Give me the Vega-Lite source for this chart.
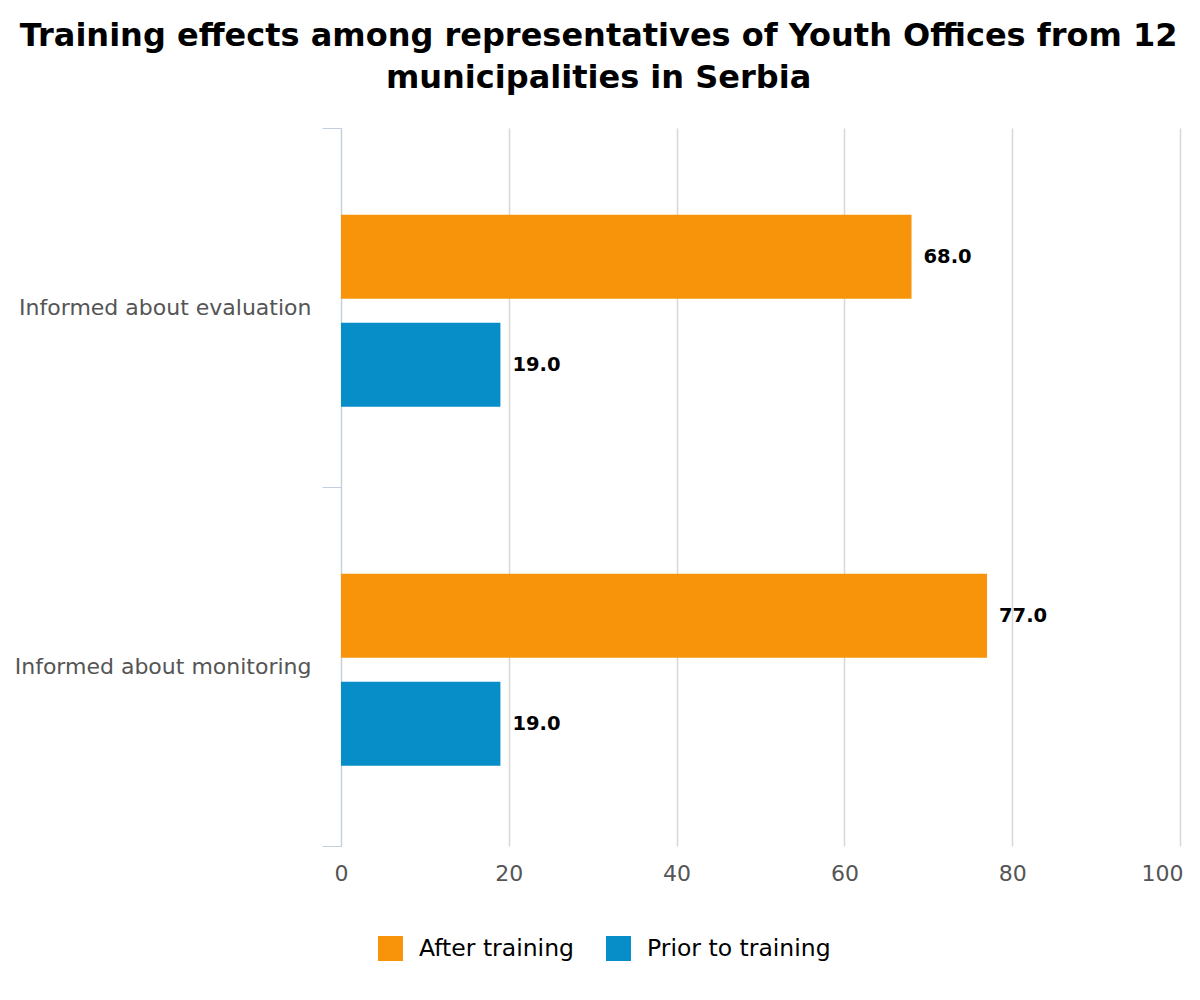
{
  "$schema": "https://vega.github.io/schema/vega-lite/v6.json",
  "title": {
    "text": ["Training effects among representatives of Youth Offices from 12", "municipalities in Serbia"],
    "font": "DejaVu Sans",
    "fontSize": 32,
    "fontWeight": "bold",
    "color": "#000000",
    "anchor": "middle",
    "frame": "bounds",
    "lineHeight": 42,
    "offset": 22
  },
  "width": 839,
  "height": 718,
  "padding": {"left": 14, "right": 20, "top": 20, "bottom": 30},
  "data": {
    "values": [
      {"item": "Informed about evaluation", "series": "After training", "value": 68.0},
      {"item": "Informed about evaluation", "series": "Prior to training", "value": 19.0},
      {"item": "Informed about monitoring", "series": "After training", "value": 77.0},
      {"item": "Informed about monitoring", "series": "Prior to training", "value": 19.0}
    ]
  },
  "encoding": {
    "y": {
      "field": "item",
      "type": "nominal",
      "title": null,
      "scale": {"paddingInner": 0, "paddingOuter": 0},
      "axis": {
        "tickBand": "extent",
        "tickSize": 19,
        "tickColor": "#c0d0e0",
        "domainColor": "#c0d0e0",
        "labelFont": "DejaVu Sans",
        "labelFontSize": 22,
        "labelColor": "#555555",
        "labelPadding": 11,
        "labelLimit": 0,
        "grid": false
      }
    },
    "yOffset": {
      "field": "series",
      "type": "nominal",
      "scale": {"paddingInner": 0.222, "paddingOuter": 0.773, "align": 0.52}
    },
    "x": {
      "field": "value",
      "type": "quantitative",
      "title": null,
      "scale": {"domain": [0, 100]},
      "axis": {
        "values": [0, 20, 40, 60, 80, 100],
        "domain": false,
        "ticks": false,
        "gridColor": "#d8d8d8",
        "gridWidth": 1.5,
        "labelFont": "DejaVu Sans",
        "labelFontSize": 22,
        "labelColor": "#555555",
        "labelPadding": 17,
        "labelFlush": false,
        "labelAlign": {"expr": "datum.value == 100 ? 'right' : 'center'"},
        "labelOffset": {"expr": "datum.value == 100 ? 3 : 0"}
      }
    }
  },
  "layer": [
    {
      "mark": {"type": "bar"},
      "encoding": {
        "color": {
          "field": "series",
          "type": "nominal",
          "scale": {"domain": ["After training", "Prior to training"], "range": ["#f7940a", "#078dc8"]},
          "legend": {
            "title": null,
            "orient": "none",
            "legendX": 37,
            "legendY": 808,
            "direction": "horizontal",
            "symbolType": "square",
            "symbolSize": 625,
            "symbolStrokeWidth": 0,
            "labelFont": "DejaVu Sans",
            "labelFontSize": 23.5,
            "labelColor": "#000000",
            "labelLimit": 0,
            "columnPadding": 32,
            "labelOffset": 16
          }
        }
      }
    },
    {
      "mark": {"type": "text", "align": "left", "baseline": "middle", "dx": 12, "font": "DejaVu Sans", "fontSize": 19.5, "fontWeight": "bold", "color": "#000000"},
      "encoding": {
        "text": {"field": "value", "type": "quantitative", "format": ".1f"}
      }
    }
  ],
  "config": {
    "view": {"stroke": null}
  }
}
